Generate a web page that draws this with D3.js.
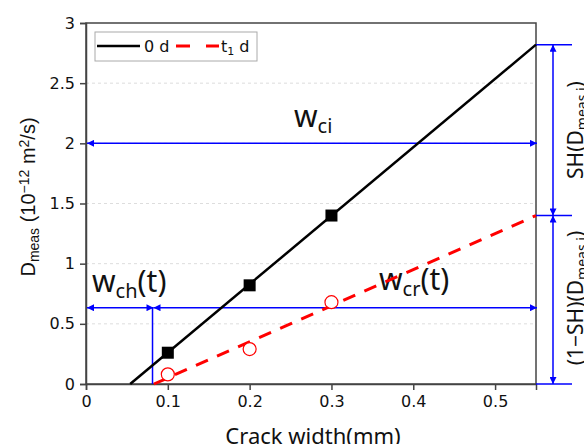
<!DOCTYPE html>
<html>
<head>
<meta charset="utf-8">
<script src="https://cdn.jsdelivr.net/npm/d3@7"></script>
<style>
  body { margin: 0; background: #fff; }
  svg { display: block; }
  text { font-family: "DejaVu Sans", sans-serif; fill: #111; }
</style>
</head>
<body>
<div id="chart"></div>
<script>
const width = 584;
const height = 444;
const margin = { left: 86, top: 23, right: 48, bottom: 60 };

// measured points
const crackWidth = [0.1, 0.2, 0.3];
const dDay0 = [0.26, 0.82, 1.40];
const dDayT1 = [0.08, 0.29, 0.68];
// fitted lines (end points)
const fitDay0 = [[0.054, 0], [0.55, 2.82]];
const fitDayT1 = [[0.083, 0], [0.55, 1.40]];

const xTicks = [0, 0.1, 0.2, 0.3, 0.4, 0.5];
const yTicks = [0, 0.5, 1, 1.5, 2, 2.5, 3];

// annotation levels
const ciLevel = 2;
const crLevel = 0.634;
const chWidth = 0.0813;
const shLevels = [2.82, 1.40, 0];

const blue = "#0000ff";

const svg = d3.select("#chart")
  .append("svg")
  .attr("width", width)
  .attr("height", height);

const x = d3.scaleLinear().domain([0, 0.55]).range([margin.left, width - margin.right]);
const y = d3.scaleLinear().domain([0, 3]).range([height - margin.bottom, margin.top]);

// arrow markers
const defs = svg.append("defs");
defs.append("marker")
  .attr("id", "arrow")
  .attr("viewBox", "0 0 10 10")
  .attr("refX", 10).attr("refY", 5)
  .attr("markerUnits", "userSpaceOnUse")
  .attr("markerWidth", 10).attr("markerHeight", 7)
  .attr("orient", "auto-start-reverse")
  .append("path")
  .attr("d", "M0,0 L10,5 L0,10 Z")
  .attr("fill", blue);

// grid
svg.append("g")
  .selectAll("line")
  .data(yTicks.slice(1, -1))
  .enter()
  .append("line")
  .attr("x1", x(0)).attr("x2", x(0.55))
  .attr("y1", d => y(d)).attr("y2", d => y(d))
  .attr("stroke", "#ddd")
  .attr("stroke-dasharray", "3,3");

// frame
svg.append("rect")
  .attr("x", x(0)).attr("y", y(3))
  .attr("width", x(0.55) - x(0))
  .attr("height", y(0) - y(3))
  .attr("fill", "none")
  .attr("stroke", "#444")
  .attr("stroke-width", 1.5);

// axes
const xAxis = svg.append("g")
  .attr("transform", `translate(0,${y(0)})`)
  .call(d3.axisBottom(x).tickValues(xTicks).tickFormat(d3.format("")).tickSize(6).tickPadding(6));
const yAxis = svg.append("g")
  .attr("transform", `translate(${x(0)},0)`)
  .call(d3.axisLeft(y).tickValues(yTicks).tickFormat(d3.format("")).tickSize(6).tickPadding(5));
[xAxis, yAxis].forEach(a => {
  a.selectAll("path").attr("stroke", "#444").attr("stroke-width", 1.5);
  a.selectAll("line").attr("stroke", "#444").attr("stroke-width", 1.5);
  a.selectAll("text").style("font-size", "16px").style("font-family", "DejaVu Sans, sans-serif").attr("fill", "#111");
});

// axis titles
svg.append("text")
  .attr("x", x(0.275) + 2)
  .attr("y", 444)
  .attr("text-anchor", "middle")
  .style("font-family", "Noto Sans, sans-serif")
  .style("font-size", "22px")
  .text("Crack width(mm)");

const yLab = svg.append("text")
  .attr("transform", "translate(35,197) rotate(-90)")
  .attr("text-anchor", "middle")
  .style("font-family", "Liberation Sans, Arial, sans-serif")
  .style("font-size", "20px");
yLab.append("tspan").text("D");
yLab.append("tspan").attr("baseline-shift", "-30%").style("font-size", "14px").text("meas");
yLab.append("tspan").text(" (10");
yLab.append("tspan").attr("baseline-shift", "40%").style("font-size", "14px").text("−12");
yLab.append("tspan").text(" m");
yLab.append("tspan").attr("baseline-shift", "40%").style("font-size", "14px").text("2");
yLab.append("tspan").text("/s)");

// blue annotation lines
const arrows = [
  [[0, ciLevel], [0.55, ciLevel]],
  [[0, crLevel], [chWidth, crLevel]],
  [[chWidth, crLevel], [0.55, crLevel]]
];
svg.append("g")
  .selectAll("line")
  .data(arrows)
  .enter()
  .append("line")
  .attr("x1", d => x(d[0][0]) + 1).attr("y1", d => y(d[0][1]))
  .attr("x2", d => x(d[1][0]) + 1).attr("y2", d => y(d[1][1]))
  .attr("stroke", blue)
  .attr("stroke-width", 1.5)
  .attr("marker-start", "url(#arrow)")
  .attr("marker-end", "url(#arrow)");

svg.append("line")
  .attr("x1", x(chWidth)).attr("x2", x(chWidth))
  .attr("y1", y(crLevel)).attr("y2", y(0))
  .attr("stroke", blue)
  .attr("stroke-width", 1.5);

// right-hand SH brackets
const bx = x(0.55);
svg.append("g")
  .selectAll("line")
  .data(shLevels)
  .enter()
  .append("line")
  .attr("x1", bx).attr("x2", bx + 36)
  .attr("y1", d => y(d)).attr("y2", d => y(d))
  .attr("stroke", blue)
  .attr("stroke-width", 1.5);
svg.append("g")
  .selectAll("line")
  .data(d3.pairs(shLevels))
  .enter()
  .append("line")
  .attr("x1", bx + 17).attr("x2", bx + 17)
  .attr("y1", d => y(d[0])).attr("y2", d => y(d[1]))
  .attr("stroke", blue)
  .attr("stroke-width", 1.5)
  .attr("marker-start", "url(#arrow)")
  .attr("marker-end", "url(#arrow)");

function subLabel(px, py, main, sub, tail, size, anchor) {
  const t = svg.append("text")
    .attr("x", px).attr("y", py)
    .attr("text-anchor", anchor || "start")
    .style("font-family", "Noto Sans, sans-serif")
    .style("font-size", size + "px");
  t.append("tspan").text(main);
  t.append("tspan").attr("baseline-shift", "-30%").style("font-size", Math.round(size * 0.68) + "px").text(sub);
  if (tail) t.append("tspan").attr("baseline-shift", "0%").text(tail);
  return t;
}
subLabel(294, 127, "w", "ci", null, 30);
subLabel(92, 292, "w", "ch", "(t)", 30);
subLabel(379, 290, "w", "cr", "(t)", 30);

function rotLabel(cx, cy, pre, sub, post) {
  const t = svg.append("text")
    .attr("transform", `translate(${cx},${cy}) rotate(-90)`)
    .attr("text-anchor", "middle")
    .style("font-family", "Noto Sans, sans-serif")
    .style("font-size", "21px");
  t.append("tspan").text(pre);
  t.append("tspan").attr("baseline-shift", "-30%").style("font-size", "14px").text(sub);
  t.append("tspan").attr("baseline-shift", "0%").text(post);
}
rotLabel(583, 130, "SH(D", "meas i", ")");
rotLabel(583, 298, "(1−SH)(D", "meas i", ")");

// fitted lines
const line = d3.line().x(d => x(d[0])).y(d => y(d[1]));
svg.append("path")
  .attr("d", line(fitDay0))
  .attr("fill", "none")
  .attr("stroke", "#000")
  .attr("stroke-width", 2.5);
svg.append("path")
  .attr("d", line(fitDayT1))
  .attr("fill", "none")
  .attr("stroke", "#ff0000")
  .attr("stroke-width", 3)
  .attr("stroke-dasharray", "13,10");

// points
svg.append("g")
  .selectAll("rect")
  .data(crackWidth.map((c, i) => [c, dDay0[i]]))
  .enter()
  .append("rect")
  .attr("x", d => x(d[0]) - 6).attr("y", d => y(d[1]) - 6)
  .attr("width", 12).attr("height", 12)
  .attr("fill", "#000");
svg.append("g")
  .selectAll("circle")
  .data(crackWidth.map((c, i) => [c, dDayT1[i]]))
  .enter()
  .append("circle")
  .attr("cx", d => x(d[0])).attr("cy", d => y(d[1]))
  .attr("r", 6.5)
  .attr("fill", "#fff")
  .attr("stroke", "#ff0000")
  .attr("stroke-width", 1.2);

// legend
const lg = svg.append("g");
lg.append("rect")
  .attr("x", 95).attr("y", 32).attr("width", 162).attr("height", 29)
  .attr("fill", "#fff").attr("stroke", "#aaa");
lg.append("line")
  .attr("x1", 97).attr("x2", 140).attr("y1", 46).attr("y2", 46)
  .attr("stroke", "#000").attr("stroke-width", 2.5);
lg.append("text").attr("x", 144).attr("y", 52).style("font-size", "16px").text("0 d");
lg.append("line")
  .attr("x1", 176).attr("x2", 219).attr("y1", 46).attr("y2", 46)
  .attr("stroke", "#ff0000").attr("stroke-width", 3)
  .attr("stroke-dasharray", "14,16");
const lt = lg.append("text").attr("x", 221).attr("y", 52).style("font-size", "16px");
lt.append("tspan").text("t");
lt.append("tspan").attr("baseline-shift", "-30%").style("font-size", "11px").text("1");
lt.append("tspan").attr("baseline-shift", "0%").text(" d");
</script>
</body>
</html>
